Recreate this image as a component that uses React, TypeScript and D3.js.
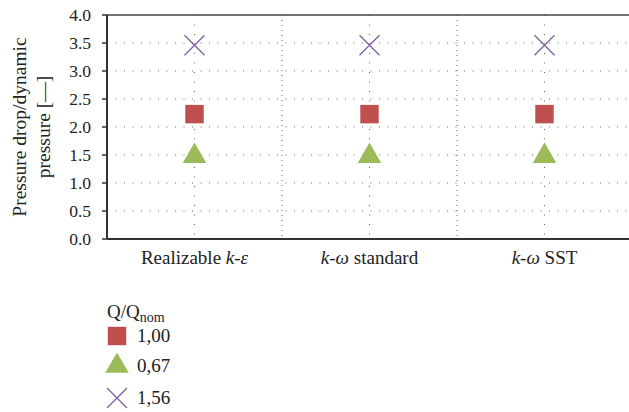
import React from "react";
import * as d3 from "d3";

const categories = ["Realizable k-ε", "k-ω standard", "k-ω SST"];
const seriesNames = ["1,00", "0,67", "1,56"];
const series100 = [2.23, 2.23, 2.23];
const series067 = [1.48, 1.48, 1.48];
const series156 = [3.46, 3.46, 3.46];
const yTicks = [0, 0.5, 1, 1.5, 2, 2.5, 3, 3.5, 4];

const W = 629;
const H = 412;
const M = { left: 107, top: 15, bottom: 239, right: 632 };
const FONT = "'Liberation Serif', serif";
const COLORS = ["#C0504D", "#9BBB59", "#8064A2"];
const SYMS = [d3.symbolSquare, d3.symbolTriangle, d3.symbolX];
const TS = { fontFamily: FONT };

function Label({ text, x, y }: { text: string; x: number; y: number }) {
  const parts = text.split(/(k-[εω])/).filter((p) => p.length);
  return (
    <text x={x} y={y} textAnchor="middle" style={TS} fontSize={19} fill="#222">
      {parts.map((p, i) => (
        <tspan key={i} fontStyle={/k-[εω]/.test(p) ? "italic" : "normal"}>
          {p}
        </tspan>
      ))}
    </text>
  );
}

function Marker({ k, x, y }: { k: number; x: number; y: number }) {
  const sizes = [340, 240, 260];
  const path = d3.symbol().type(SYMS[k]).size(sizes[k])()!;
  if (k === 2) {
    const s = 10;
    return (
      <path
        d={`M${x - s},${y - s}L${x + s},${y + s}M${x - s},${y + s}L${x + s},${y - s}`}
        stroke={COLORS[k]}
        strokeWidth={1.4}
        fill="none"
      />
    );
  }
  return <path d={path} transform={`translate(${x},${y})`} fill={COLORS[k]} />;
}

export default function App() {
  const x = d3.scaleBand<string>().domain(categories).range([M.left, M.right]).padding(0);
  const y = d3.scaleLinear().domain([0, 4]).range([M.bottom, M.top]);
  const all = [series100, series067, series156];
  const centers = categories.map((c) => (x(c) as number) + x.bandwidth() / 2);
  const bounds = categories.slice(1).map((c) => x(c) as number);

  return (
    <svg
      width={W}
      height={H}
      style={{ position: "absolute", left: 0, top: 0, background: "#fff", fontFamily: FONT }}
    >
      {yTicks
        .filter((t) => t > 0 && t < 4)
        .map((t) => (
          <line
            key={"h" + t}
            x1={M.left}
            x2={W}
            y1={y(t)}
            y2={y(t)}
            stroke="#666"
            strokeWidth={1}
            strokeDasharray="1,7.5"
          />
        ))}
      {centers.map((c, i) => (
        <line
          key={"vc" + i}
          x1={c}
          x2={c}
          y1={M.top}
          y2={M.bottom}
          stroke="#666"
          strokeWidth={1}
          strokeDasharray="1,8.5"
        />
      ))}
      {bounds.map((b, i) => (
        <line
          key={"vb" + i}
          x1={b}
          x2={b}
          y1={M.top}
          y2={M.bottom}
          stroke="#666"
          strokeWidth={1}
          strokeDasharray="1,4"
        />
      ))}
      <line x1={M.left} x2={W} y1={M.top} y2={M.top} stroke="#444" strokeWidth={1.5} />
      <line x1={M.left} x2={W} y1={M.bottom} y2={M.bottom} stroke="#333" strokeWidth={2} />
      <line x1={M.left} x2={M.left} y1={M.top} y2={M.bottom} stroke="#333" strokeWidth={2} />
      {yTicks.map((t) => (
        <g key={"t" + t}>
          <line x1={M.left - 5} x2={M.left} y1={y(t)} y2={y(t)} stroke="#333" strokeWidth={1.5} />
          <text
            x={M.left - 16}
            y={y(t) + 5.5}
            textAnchor="end"
            style={TS}
            fontSize={17.5}
            fill="#222"
          >
            {t.toFixed(1)}
          </text>
        </g>
      ))}
      {categories.map((c, i) => (
        <Label key={c} text={c} x={centers[i]} y={264} />
      ))}
      <g transform="translate(26,127) rotate(-90)">
        <text textAnchor="middle" style={TS} fontSize={19.5} fill="#222">
          Pressure drop/dynamic
        </text>
        <text y={24} textAnchor="middle" style={TS} fontSize={19.5} fill="#222">
          pressure [—]
        </text>
      </g>
      {all.map((s, k) =>
        s.map((v, i) => <Marker key={k + "-" + i} k={k} x={centers[i]} y={y(v)} />)
      )}
      <text x={107} y={318} style={TS} fontSize={19} fill="#222">
        Q/Q<tspan fontSize={14} dy={4}>nom</tspan>
      </text>
      {seriesNames.map((n, k) => {
        const ly = [336, 366, 398][k];
        return (
          <g key={n}>
            <Marker k={k} x={117} y={ly} />
            <text x={137} y={ly + 6} style={TS} fontSize={19} fill="#222">
              {n}
            </text>
          </g>
        );
      })}
    </svg>
  );
}
